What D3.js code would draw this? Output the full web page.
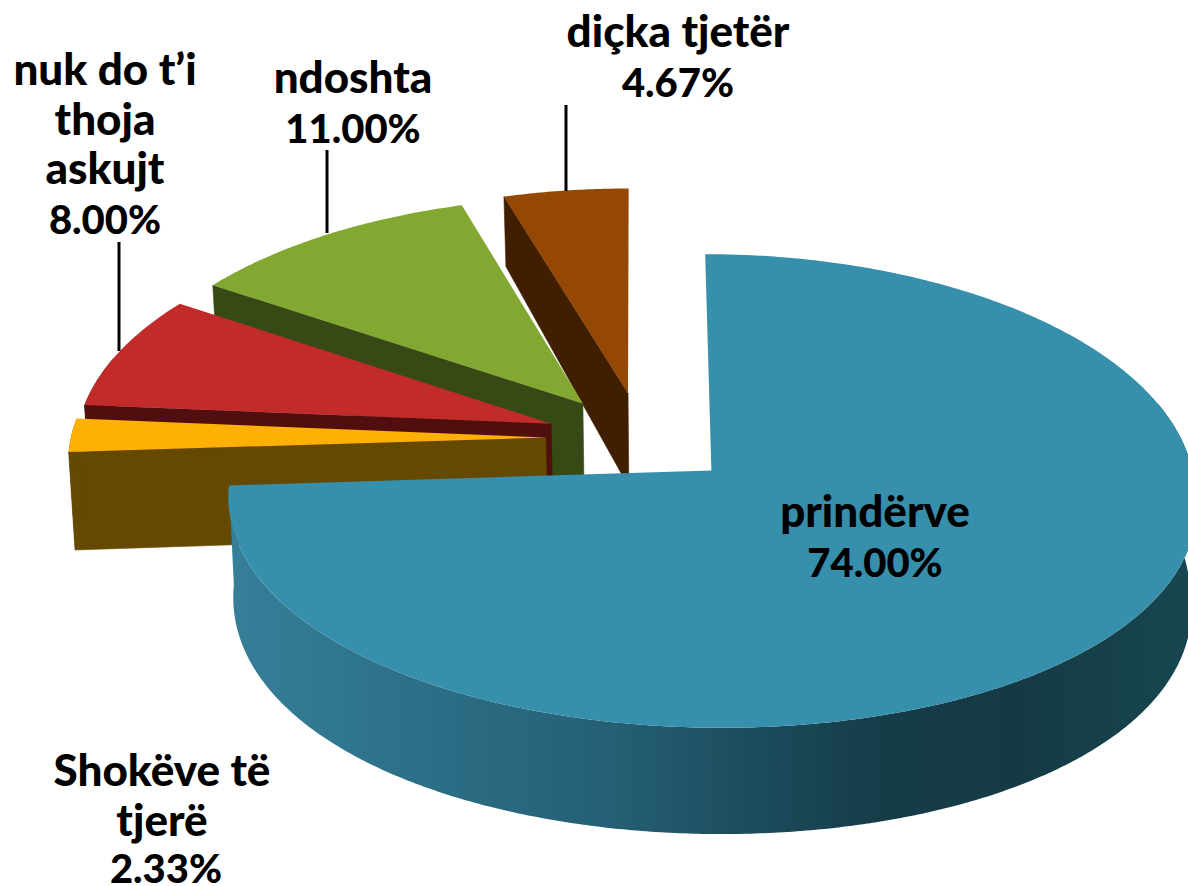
<!DOCTYPE html>
<html><head><meta charset="utf-8">
<script src="https://cdn.jsdelivr.net/npm/d3@7/dist/d3.min.js"></script>
<style>html,body{margin:0;padding:0;background:#fff}svg{display:block}</style></head>
<body><svg id="c" width="1188" height="886"></svg>
<script>
const categories=["prindërve","Shokëve të tjerë","nuk do t’i thoja askujt","ndoshta","diçka tjetër"];
const values=[74.00,2.33,8.00,11.00,4.67];
const valueLabels=["74.00%","2.33%","8.00%","11.00%","4.67%"];
const labelLines=[["prindërve"],["Shokëve të","tjerë"],["nuk do t’i","thoja","askujt"],["ndoshta"],["diçka tjetër"]];
const explodeX=[0.215,0.19,0.19,0.19,0.117];
const explodeZ=[0.205,0.19,0.19,0.19,0.2];
const topColors=["#368FAB","#FFB005","#C12C2B","#82A832","#954804"];
const wallColors=["url(#blueWall)","#664900","#510E0F","#374A16","#401E00"];
const labelX=[875,162,105,353,678];
const labelY=[527,786,85,93,47];
const leaders=[null,null,[119,242,351],[327,150,233],[566,105,191]];

const W=1188,H=886,Cx=636,Cy=438,Rx=475,Ry=229.5,kx=0.088,ky=0.085,m=0.01;
const svg=d3.select("#c");
const defs=svg.append("defs");
const grad=defs.append("linearGradient").attr("id","blueWall").attr("gradientUnits","userSpaceOnUse")
  .attr("x1",232).attr("x2",1188).attr("y1",0).attr("y2",0);
[[0,"#367F99"],[0.2,"#2C6F87"],[0.4,"#245F74"],[0.52,"#1D4F60"],[0.68,"#153C49"],[0.82,"#143A45"],[1,"#174650"]]
  .forEach(([o,c])=>grad.append("stop").attr("offset",o).attr("stop-color",c));

const pie=d3.pie().sort(null).value(d=>d);
const arcs=pie(values);
const wallH=z=>97*(1-0.162*z-0.0687*z*z);
function project(x,z,bottom){
  const s=1/(1+kx*z)+0.045*Math.max(0,-z-0.2), sy=z/(1+ky*z);
  let px=Cx+Rx*x*s, py=Cy-Ry*sy;
  if(bottom){ px=px+(708-px)*m; py=py+wallH(z); }
  return [px,py];
}
function pt(arc,i,a,r,bottom){
  const mid=(arc.startAngle+arc.endAngle)/2;
  return project(explodeX[i]*Math.sin(mid)+r*Math.sin(a), explodeZ[i]*Math.cos(mid)+r*Math.cos(a), bottom);
}
const line=d3.line();
const step=Math.PI/360;
const sample=(a,b)=>{const s=d3.range(a,b,step);s.push(b);return s;};
const order=[4,3,2,1,0];
order.forEach(i=>{
  const arc=arcs[i],g=svg.append("g");
  const ang=sample(arc.startAngle,arc.endAngle);
  if(i!==0){
    const a=arc.startAngle;
    g.append("path").attr("fill",wallColors[i]).attr("stroke",wallColors[i]).attr("stroke-width",0.6).attr("d",line([pt(arc,i,a,0,false),pt(arc,i,a,1,false),pt(arc,i,a,1,true),pt(arc,i,a,0,true)])+"Z");
  }
  const near=ang.filter(a=>Math.cos(a)<0.3);
  if(near.length>1){
    g.append("path").attr("fill",wallColors[i]).attr("d",line(near.map(a=>pt(arc,i,a,1,false)).concat(near.slice().reverse().map(a=>pt(arc,i,a,1,true))))+"Z");
  }
  g.append("path").attr("fill",topColors[i]).attr("d",line([pt(arc,i,arc.startAngle,0,false)].concat(ang.map(a=>pt(arc,i,a,1,false))))+"Z");
});
leaders.forEach(l=>{ if(l) svg.append("line").attr("x1",l[0]).attr("x2",l[0]).attr("y1",l[1]).attr("y2",l[2]).attr("stroke","#000").attr("stroke-width",3); });
categories.forEach((c,i)=>{
  const t=svg.append("text").attr("text-anchor","middle").attr("font-family","Lato, sans-serif").attr("font-weight",900).attr("fill","#000");
  labelLines[i].forEach((s,j)=>{
    t.append("tspan").attr("x",labelX[i]).attr("y",labelY[i]+j*49.5).attr("font-size",44).text(s);
  });
  t.append("tspan").attr("x",labelX[i]+(i===1?4:0)).attr("y",labelY[i]+labelLines[i].length*49.5-(i===1?2:0)).attr("font-size",40).text(valueLabels[i]);
});
</script></body></html>
